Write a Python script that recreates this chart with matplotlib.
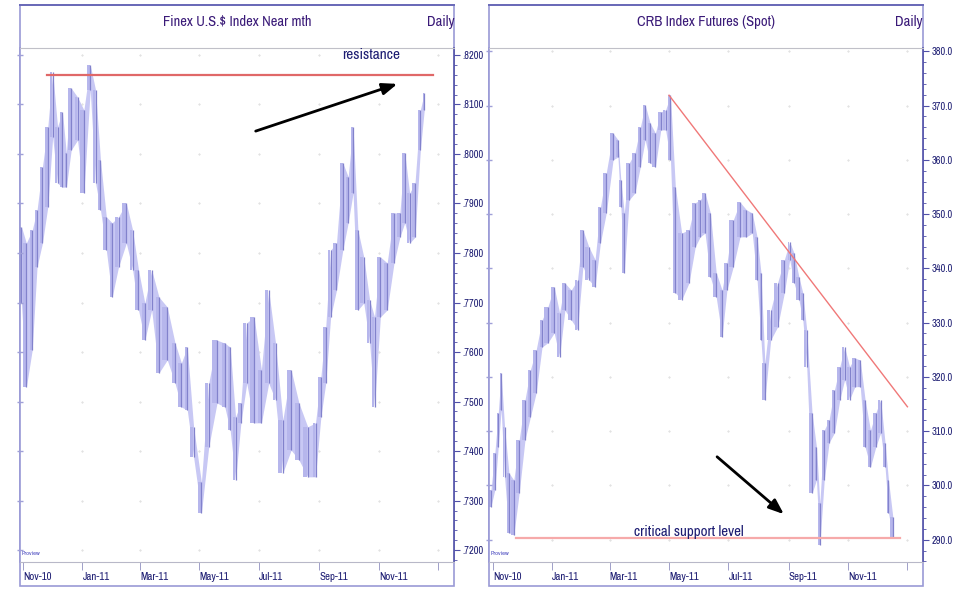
import matplotlib
matplotlib.use("Agg")
import matplotlib.pyplot as plt
import matplotlib.dates as mdates
from matplotlib.patches import Rectangle
from matplotlib.ticker import FuncFormatter, MultipleLocator
from matplotlib import font_manager
import numpy as np
import pandas as pd

# ---------------- data ----------------
usd_edges = ["2010-10-29", "2010-11-01", "2010-11-08", "2010-11-13", "2010-11-18", "2010-11-24",
             "2010-11-29", "2010-12-04", "2010-12-09", "2010-12-14", "2010-12-17", "2010-12-24",
             "2010-12-30", "2011-01-06", "2011-01-12", "2011-01-17", "2011-01-22", "2011-01-29",
             "2011-02-03", "2011-02-11", "2011-02-19", "2011-02-24", "2011-03-03", "2011-03-09",
             "2011-03-17", "2011-03-24", "2011-04-03", "2011-04-09", "2011-04-16", "2011-04-21",
             "2011-04-29", "2011-05-07", "2011-05-14", "2011-05-24", "2011-05-30", "2011-06-04",
             "2011-06-10", "2011-06-15", "2011-06-22", "2011-06-30", "2011-07-07", "2011-07-15",
             "2011-07-21", "2011-07-30", "2011-08-07", "2011-08-15", "2011-08-25", "2011-08-31",
             "2011-09-05", "2011-09-10", "2011-09-15", "2011-09-22", "2011-09-28", "2011-10-03",
             "2011-10-08", "2011-10-13", "2011-10-20", "2011-10-25", "2011-10-30", "2011-11-06",
             "2011-11-13", "2011-11-20", "2011-11-25", "2011-11-30", "2011-12-05", "2011-12-11",
             "2011-12-16", "2011-12-19"]
usd_high = [.7853, .7820, .7846, .7887, .7974, .8055, .8166, .8055, .8085, .8002,
            .8133, .8115, .8089, .8180, .8129, .7988, .7873, .7861, .7873, .7901,
            .7846, .7766, .7699, .7766, .7711, .7691, .7618, .7578, .7610, .7449,
            .7337, .7537, .7624, .7618, .7610, .7469, .7497, .7659, .7671, .7564,
            .7725, .7618, .7463, .7564, .7497, .7449, .7457, .7550, .7651, .7806,
            .7820, .7982, .7954, .8055, .7846, .7792, .7705, .7671, .7792, .7780,
            .7881, .7881, .8002, .7921, .7941, .8089, .8123]
usd_low = [.7699, .7529, .7604, .7772, .7820, .7893, .8034, .7941, .7933, .7933,
           .8008, .8028, .7921, .8129, .7941, .7887, .7806, .7711, .7772, .7820,
           .7766, .7685, .7624, .7685, .7558, .7584, .7537, .7489, .7483, .7388,
           .7275, .7408, .7497, .7489, .7442, .7341, .7457, .7537, .7457, .7457,
           .7537, .7503, .7356, .7402, .7382, .7348, .7348, .7469, .7537, .7671,
           .7725, .7806, .7861, .7921, .7685, .7699, .7618, .7489, .7671, .7685,
           .7780, .7832, .7861, .7820, .7832, .8008, .8089]

crb_edges = ["2010-10-28", "2010-11-01", "2010-11-05", "2010-11-08", "2010-11-11", "2010-11-15",
             "2010-11-20", "2010-11-25", "2010-12-01", "2010-12-07", "2010-12-12", "2010-12-19",
             "2010-12-24", "2010-12-31", "2011-01-06", "2011-01-11", "2011-01-17", "2011-01-24",
             "2011-01-30", "2011-02-04", "2011-02-11", "2011-02-17", "2011-02-22", "2011-03-01",
             "2011-03-08", "2011-03-11", "2011-03-14", "2011-03-18", "2011-03-24", "2011-03-30",
             "2011-04-04", "2011-04-09", "2011-04-14", "2011-04-20", "2011-04-25", "2011-04-30",
             "2011-05-05", "2011-05-10", "2011-05-18", "2011-05-25", "2011-05-31", "2011-06-04",
             "2011-06-10", "2011-06-15", "2011-06-22", "2011-06-27", "2011-07-02", "2011-07-10",
             "2011-07-16", "2011-07-23", "2011-07-28", "2011-08-02", "2011-08-05", "2011-08-10",
             "2011-08-17", "2011-08-24", "2011-08-31", "2011-09-04", "2011-09-09", "2011-09-14",
             "2011-09-17", "2011-09-22", "2011-09-28", "2011-10-01", "2011-10-05", "2011-10-10",
             "2011-10-15", "2011-10-21", "2011-10-26", "2011-10-31", "2011-11-05", "2011-11-11",
             "2011-11-16", "2011-11-21", "2011-11-27", "2011-12-02", "2011-12-07", "2011-12-11",
             "2011-12-14", "2011-12-20"]
crb_high = [299.2, 306.0, 313.4, 320.7, 310.8, 302.3, 301.0, 308.4, 315.8, 321.3,
            325.0, 330.5, 332.9, 336.6, 331.8, 337.3, 336.0, 337.9, 347.1, 344.0,
            341.6, 351.3, 357.6, 364.9, 363.7, 356.3, 350.2, 359.4, 361.3, 366.0,
            370.1, 366.8, 364.9, 368.8, 369.2, 371.9, 355.0, 346.5, 347.1, 352.1,
            352.6, 353.9, 350.2, 339.2, 336.0, 341.0, 348.9, 352.2, 350.8, 350.2,
            345.8, 339.2, 322.6, 332.3, 337.3, 341.6, 344.9, 342.8, 338.4, 335.5,
            328.7, 313.4, 307.1, 296.8, 310.2, 312.1, 317.6, 321.9, 325.5, 321.9,
            323.5, 323.1, 315.8, 310.2, 313.4, 315.8, 307.9, 301.0, 294.2]
crb_low = [296.1, 299.2, 307.1, 313.9, 301.6, 291.3, 290.9, 298.6, 308.4, 312.6,
           317.1, 325.5, 326.3, 328.1, 323.7, 332.3, 330.5, 328.7, 340.3, 337.9,
           336.6, 344.7, 350.2, 360.0, 360.5, 351.3, 339.2, 352.6, 353.9, 358.7,
           363.7, 359.4, 358.7, 365.5, 365.5, 360.0, 335.5, 334.2, 337.3, 344.0,
           345.8, 346.5, 338.4, 334.7, 327.4, 336.0, 340.3, 345.8, 345.8, 346.5,
           337.9, 326.8, 315.8, 326.8, 329.2, 335.5, 341.6, 337.3, 334.2, 330.5,
           321.9, 298.6, 301.0, 289.1, 301.0, 307.9, 309.7, 315.8, 319.5, 315.8,
           318.2, 318.2, 307.1, 303.4, 307.1, 309.7, 303.4, 295.0, 290.4]

usd_resistance = 0.8160
usd_resistance_span = ["2010-11-26", "2011-12-26"]
crb_support = 290.4
crb_support_span = ["2010-11-25", "2011-12-24"]
crb_trend_dates = ["2011-05-01", "2012-01-01"]
crb_trend_values = [371.9, 314.5]

month_ticks = ["2010-11-01", "2011-01-01", "2011-03-01", "2011-05-01", "2011-07-01",
               "2011-09-01", "2011-11-01", "2012-01-01"]
month_labels = ["Nov-10", "Jan-11", "Mar-11", "May-11", "Jul-11", "Sep-11", "Nov-11", ""]

# ---------------- style ----------------
names = {f.name for f in font_manager.fontManager.ttflist}
NARROW = next((n for n in ["Archivo Narrow", "Roboto Condensed", "Asap Condensed"] if n in names),
              "DejaVu Sans")
plt.rcParams["font.family"] = [NARROW, "DejaVu Sans"]

W, H = 956, 589
fig = plt.figure(figsize=(W / 100, H / 100), dpi=100)
fig.patch.set_facecolor("white")

TITLE_C = "#3a1a78"
TICK_C = "#1c1c72"
BAR_LIGHT = "#c8c8f4"
BAR_DARK = "#8282cc"
BOX_C = "#9a9ad6"


def num(dates):
    return mdates.date2num(pd.to_datetime(dates))


def panel(x0, edges, high, low, xlim, ylim, major, minor, fmt, title):
    fig.add_artist(Rectangle((x0 / W, 3 / H), 434 / W, 581 / H, transform=fig.transFigure,
                             fill=False, edgecolor=BOX_C, linewidth=1.2, zorder=0))
    fig.add_artist(plt.Line2D([x0 / W, (x0 + 434) / W], [584 / H, 584 / H],
                              transform=fig.transFigure, color="#6a6ab8", linewidth=1.4))
    ax = fig.add_axes([x0 / W, 27 / H, 434 / W, 514 / H])
    e = num(edges)
    hi = np.array(high)
    lo = np.array(low)
    w = np.diff(e)
    c = e[:-1] + w / 2
    ax.fill_between(c, lo, hi, color=BAR_LIGHT, linewidth=0, zorder=2)
    ax.bar(e[:-1], hi - lo, width=w * 0.45, bottom=lo, align="edge",
           color="#b6b6ec", linewidth=0, zorder=2.5)
    ax.vlines(c, lo, hi, color=BAR_DARK, linewidth=0.9, zorder=3)
    ax.set_xlim(num(xlim))
    ax.set_ylim(ylim)

    ax.yaxis.set_ticks_position("both")
    ax.yaxis.set_major_locator(MultipleLocator(major))
    ax.yaxis.set_minor_locator(MultipleLocator(minor))
    ax.yaxis.set_major_formatter(FuncFormatter(fmt))
    ax.tick_params(axis="y", which="major", direction="out", length=4, width=0.8,
                   color="#5050a8", labelsize=7.5, labelcolor=TICK_C, pad=2,
                   left=False, labelleft=False, right=True, labelright=True)
    ax.tick_params(axis="y", which="minor", direction="out", length=2, width=0.6,
                   color="#5050a8", left=False, right=True)
    yt = [t for t in ax.get_yticks() if ylim[0] <= t <= ylim[1]]
    ax.plot(np.full(len(yt), 0.0), yt, transform=ax.get_yaxis_transform(),
            linestyle="none", marker="_", markersize=5, color="#a0a0d8", clip_on=False, zorder=5)
    mx = num(month_ticks)[1:]
    gx, gy = np.meshgrid(mx, yt)
    ax.plot(gx.ravel(), gy.ravel(), linestyle="none", marker=".", markersize=0.8,
            color="#d2d2d2", zorder=1)

    ax.set_xticks(num(month_ticks))
    ax.set_xticklabels(month_labels, ha="left")
    ax.tick_params(axis="x", which="major", direction="out", length=6, width=0.6,
                   color="#9090c0", labelsize=7.8, labelcolor=TICK_C, pad=1)
    ax.spines["right"].set_color("#5050a8")
    ax.spines["right"].set_linewidth(1.2)
    ax.spines["left"].set_color(BOX_C)
    ax.spines["left"].set_linewidth(1.2)
    ax.spines["top"].set_color("#c0c0c8")
    ax.spines["bottom"].set_color("#b8b8c8")

    fig.text((x0 + 217) / W, (H - 22) / H, title, ha="center", va="center",
             fontsize=10.5, color=TITLE_C)
    fig.text((x0 + 434) / W, (H - 22) / H, "Daily", ha="right", va="center",
             fontsize=10.5, color=TITLE_C)
    ax.text(0.003, 0.012, "Proview", transform=ax.transAxes, fontsize=4.5,
            color="#4a4ac0", ha="left", va="bottom")
    return ax


ax1 = panel(20, usd_edges, usd_high, usd_low, ["2010-10-29", "2012-01-17"],
            (0.7176, 0.8214), 0.01, 0.002, lambda v, p: f"{v:.4f}"[1:],
            "Finex U.S.$ Index Near mth")
ax2 = panel(489, crb_edges, crb_high, crb_low, ["2010-10-28", "2012-01-17"],
            (285.9, 380.6), 10, 2, lambda v, p: f"{v:.1f}",
            "CRB Index Futures (Spot)")

ax1.plot(num(usd_resistance_span), [usd_resistance] * 2, color="#e06868",
         linewidth=1.6, zorder=4)
ax1.text(0.8088, 0.986, "resistance", transform=ax1.transAxes, ha="center",
         va="center", fontsize=11, color="#1c1c72", zorder=5)
ax1.annotate("", xy=(0.8756, 0.9319), xytext=(0.537, 0.8366),
             xycoords="axes fraction", textcoords="axes fraction",
             arrowprops=dict(arrowstyle="-|>,head_length=0.9,head_width=0.35",
                             color="black", lw=2), zorder=6)

ax2.plot(num(crb_trend_dates), crb_trend_values, color="#f07878", linewidth=1.0, zorder=4)
ax2.plot(num(crb_support_span), [crb_support] * 2, color="#f6aaaa", linewidth=1.6, zorder=4)
ax2.text(0.4608, 0.058, "critical support level", transform=ax2.transAxes,
         ha="center", va="center", fontsize=10.8, color="#1c1c72", zorder=5)
ax2.annotate("", xy=(0.6843, 0.0895), xytext=(0.5207, 0.2082),
             xycoords="axes fraction", textcoords="axes fraction",
             arrowprops=dict(arrowstyle="-|>,head_length=0.9,head_width=0.35",
                             color="black", lw=2), zorder=6)

fig.savefig("out.png", dpi=100, facecolor="white")
